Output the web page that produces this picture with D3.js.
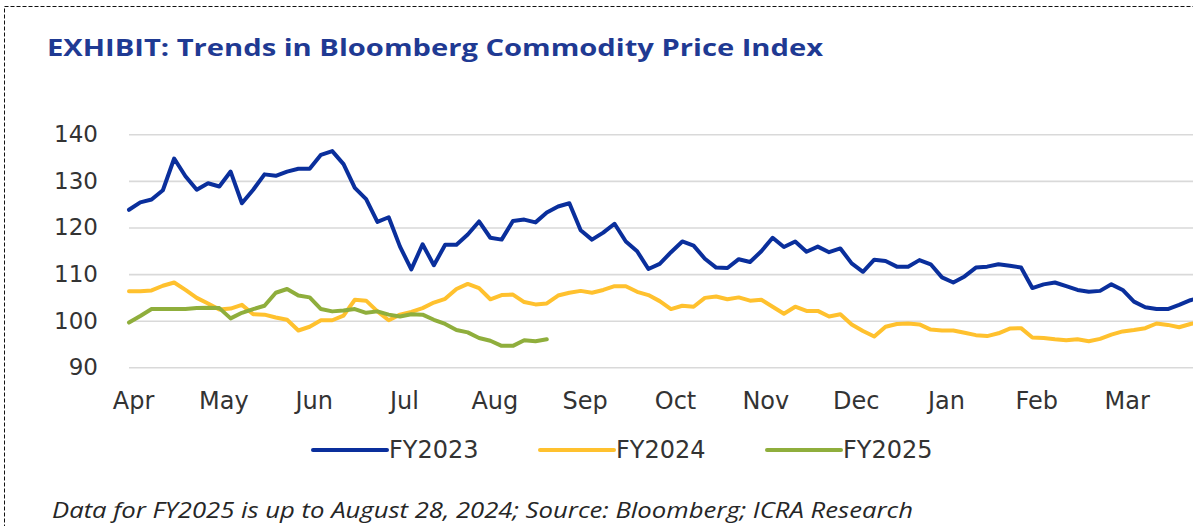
<!DOCTYPE html>
<html>
<head>
<meta charset="utf-8">
<script src="https://cdn.jsdelivr.net/npm/d3@7"></script>
<style>
  body { margin: 0; background: #fff; }
  svg { display: block; }
</style>
</head>
<body>
<div id="chart-area"></div>
<script>
// month labels of the fiscal year, Apr..Mar
let months = ["Apr", "May", "Jun", "Jul", "Aug", "Sep", "Oct", "Nov", "Dec", "Jan", "Feb", "Mar"];
let yTicks = [90, 100, 110, 120, 130, 140];
let seriesNames = ["FY2023", "FY2024", "FY2025"];

// index readings, one every 1/8 of a month starting 1 Apr
let stepsPerMonth = 8;
let fy2023 = [123.8, 125.4, 126.0, 128.0, 134.8, 131.0, 128.1, 129.5, 128.8, 132.0,
  125.2, 128.1, 131.4, 131.1, 132.0, 132.6, 132.6, 135.6, 136.4, 133.6,
  128.5, 126.1, 121.2, 122.2, 115.9, 111.0, 116.4, 111.9, 116.3, 116.3,
  118.5, 121.3, 117.8, 117.4, 121.4, 121.7, 121.1, 123.2, 124.5, 125.2,
  119.4, 117.4, 118.9, 120.8, 117.0, 114.9, 111.1, 112.2, 114.7, 117.0,
  116.1, 113.3, 111.4, 111.3, 113.2, 112.6, 114.9, 117.8, 115.8, 117.0,
  114.8, 115.9, 114.7, 115.5, 112.3, 110.5, 113.1, 112.8, 111.6, 111.6,
  113.0, 112.1, 109.3, 108.2, 109.5, 111.4, 111.6, 112.1, 111.8, 111.4,
  107.0, 107.8, 108.2, 107.4, 106.6, 106.2, 106.4, 107.8, 106.6, 104.1,
  102.9, 102.5, 102.5, 103.4, 104.4, 105.0];
let fy2024 = [106.3, 106.3, 106.5, 107.5, 108.2, 106.6, 104.9, 103.7, 102.4, 102.6,
  103.4, 101.4, 101.3, 100.7, 100.2, 97.9, 98.7, 100.1, 100.1, 101.1,
  104.5, 104.3, 102.0, 100.1, 101.3, 101.9, 102.7, 103.9, 104.7, 106.8,
  107.9, 107.0, 104.6, 105.5, 105.6, 104.0, 103.5, 103.7, 105.4, 106.0,
  106.4, 106.0, 106.6, 107.4, 107.4, 106.2, 105.5, 104.2, 102.5, 103.2,
  103.0, 104.9, 105.2, 104.6, 105.0, 104.3, 104.5, 103.0, 101.5, 103.0,
  102.1, 102.1, 100.9, 101.4, 99.2, 97.8, 96.6, 98.7, 99.3, 99.4,
  99.2, 98.1, 97.9, 97.9, 97.4, 96.9, 96.7, 97.3, 98.3, 98.4,
  96.4, 96.3, 96.0, 95.8, 96.0, 95.6, 96.1, 97.0, 97.7, 98.0,
  98.4, 99.4, 99.1, 98.6, 99.3, 99.8];
let fy2025 = [99.6, 101.0, 102.5, 102.5, 102.5, 102.5, 102.7, 102.8, 102.7, 100.5,
  101.7, 102.5, 103.2, 106.0, 106.8, 105.4, 105.0, 102.5, 102.0, 102.2,
  102.5, 101.7, 102.0, 101.3, 100.9, 101.4, 101.3, 100.2, 99.3, 98.0,
  97.5, 96.3, 95.7, 94.6, 94.6, 95.8, 95.6, 96.0];

let colors = ["#0a2f9c", "#ffc12e", "#8fae3c"];
let series = [fy2023, fy2024, fy2025].map((vals, k) => ({
  name: seriesNames[k],
  color: colors[k],
  values: vals.map((v, i) => ({ m: i / stepsPerMonth, v: v }))
}));

let svgW = 1193;
let svgH = 526;

let svg = d3.select("#chart-area")
  .append("svg")
  .attr("width", svgW)
  .attr("height", svgH)
  .style("background", "#fff");

// dashed frame, runs off the right and bottom edge like the crop
svg.append("rect")
  .attr("x", 4.5)
  .attr("y", 6.5)
  .attr("width", 1400)
  .attr("height", 700)
  .attr("fill", "none")
  .attr("stroke", "#111")
  .attr("stroke-width", 1)
  .attr("stroke-dasharray", "4,2");

svg.append("text")
  .attr("x", 47)
  .attr("y", 56)
  .attr("font-family", "'Open Sans', sans-serif")
  .attr("font-weight", "bold")
  .attr("font-size", 23)
  .attr("fill", "#1f3a93")
  .attr("textLength", 776)
  .attr("lengthAdjust", "spacingAndGlyphs")
  .text("EXHIBIT: Trends in Bloomberg Commodity Price Index");

let x = d3.scaleLinear().domain([0, 12]).range([129, 1213]);
let y = d3.scaleLinear().domain([90, 140]).range([367.3, 134.3]);

let tickFont = "'DejaVu Sans', sans-serif";

let gy = svg.append("g")
  .attr("transform", `translate(${x(0)},0)`)
  .call(d3.axisLeft(y).tickValues(yTicks).tickSize(-(svgW - x(0))).tickPadding(31));
gy.select(".domain").remove();
gy.selectAll(".tick line").attr("stroke", "#d9d9d9").attr("stroke-width", 1.6);
gy.selectAll(".tick text")
  .attr("font-family", tickFont)
  .attr("font-size", 23)
  .attr("fill", "#333");

let gx = svg.append("g")
  .attr("transform", `translate(4,${y(90)})`)
  .call(d3.axisBottom(x).tickValues(d3.range(12)).tickFormat(i => months[i]).tickSize(0).tickPadding(25));
gx.select(".domain").remove();
gx.selectAll(".tick text")
  .attr("font-family", tickFont)
  .attr("font-size", 24)
  .attr("fill", "#333");

let line = d3.line()
  .x(d => x(d.m))
  .y(d => y(d.v));

svg.append("g")
  .selectAll("path")
  .data(series)
  .enter()
  .append("path")
  .attr("d", d => line(d.values))
  .attr("fill", "none")
  .attr("stroke", d => d.color)
  .attr("stroke-width", 4)
  .attr("stroke-linejoin", "round")
  .attr("stroke-linecap", "round");

// legend
let legendX = d3.scaleLinear().domain([0, 1]).range([313, 540]);
let legend = svg.append("g")
  .selectAll("g")
  .data(series)
  .enter()
  .append("g")
  .attr("transform", (d, i) => `translate(${legendX(i)},450)`);

legend.append("line")
  .attr("x1", 0)
  .attr("x2", 74)
  .attr("stroke", d => d.color)
  .attr("stroke-width", 4)
  .attr("stroke-linecap", "round");

legend.append("text")
  .attr("x", 76)
  .attr("y", 8)
  .attr("font-family", tickFont)
  .attr("font-size", 24)
  .attr("fill", "#333")
  .text(d => d.name);

svg.append("text")
  .attr("x", 52)
  .attr("y", 518)
  .attr("font-family", "'Open Sans', sans-serif")
  .attr("font-style", "italic")
  .attr("font-size", 21)
  .attr("fill", "#262626")
  .attr("textLength", 861)
  .attr("lengthAdjust", "spacingAndGlyphs")
  .text("Data for FY2025 is up to August 28, 2024; Source: Bloomberg; ICRA Research");
</script>
</body>
</html>
